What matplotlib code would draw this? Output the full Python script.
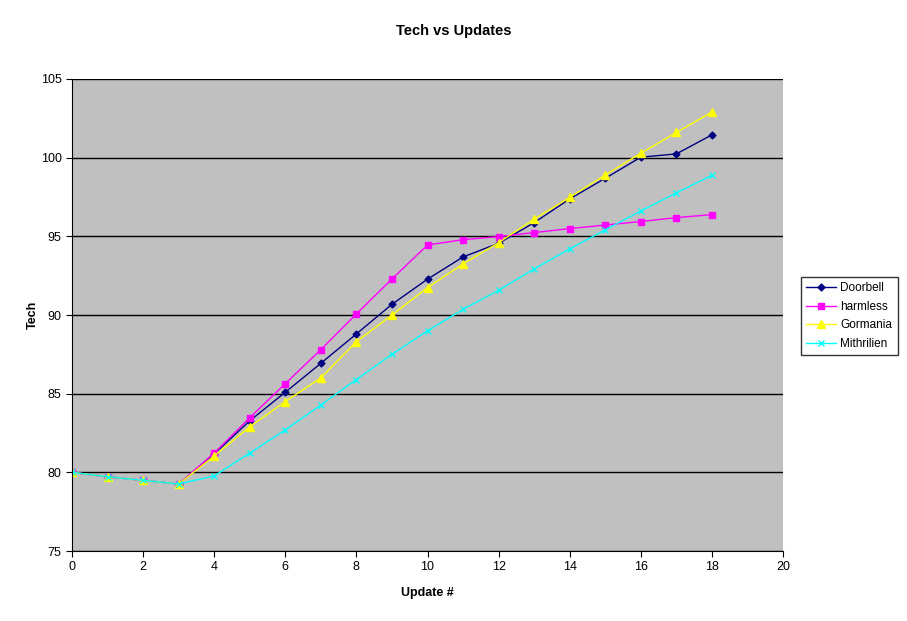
import matplotlib
matplotlib.use('Agg')
import matplotlib.pyplot as plt

plt.rcParams['font.family'] = ['Liberation Sans', 'DejaVu Sans']

updates = list(range(19))
doorbell = [80.0, 79.72, 79.49, 79.26, 81.17, 83.28, 85.09, 86.93, 88.8, 90.68, 92.28,
            93.69, 94.56, 95.87, 97.38, 98.69, 100.03, 100.24, 101.45]
harmless = [80.0, 79.72, 79.49, 79.26, 81.23, 83.47, 85.64, 87.8, 90.07, 92.29, 94.45,
            94.79, 94.98, 95.24, 95.49, 95.72, 95.94, 96.19, 96.38]
gormania = [80.0, 79.72, 79.49, 79.26, 81.04, 82.9, 84.5, 86.0, 88.3, 90.0, 91.74,
            93.25, 94.6, 96.09, 97.48, 98.9, 100.28, 101.6, 102.9]
mithrilien = [80.0, 79.72, 79.49, 79.26, 79.77, 81.23, 82.7, 84.28, 85.9, 87.5, 89.0,
              90.36, 91.57, 92.93, 94.2, 95.41, 96.61, 97.76, 98.88]

fig = plt.figure(figsize=(9.07, 6.21), dpi=100)
ax = fig.add_axes([0.0794, 0.1127, 0.7839, 0.7601])
ax.set_facecolor('#C0C0C0')

ax.plot(updates, doorbell, color='#000080', marker='D', markersize=3.5, lw=1, label='Doorbell')
ax.plot(updates, harmless, color='#FF00FF', marker='s', markersize=4.5, lw=1, label='harmless')
ax.plot(updates, gormania, color='#FFFF00', marker='^', markersize=5.5, lw=1, label='Gormania')
ax.plot(updates, mithrilien, color='#00FFFF', marker='x', markersize=4, lw=1, label='Mithrilien')

ax.set_xlim(0, 20)
ax.set_ylim(75, 105)
ax.set_xticks(range(0, 21, 2))
ax.set_yticks(range(75, 106, 5))
ax.yaxis.grid(True, color='black', lw=1)
ax.set_axisbelow(True)
ax.tick_params(labelsize=9, direction='out', length=4)
for s in ['top', 'right']:
    ax.spines[s].set_visible(False)

ax.set_xlabel('Update #', fontsize=9, fontweight='bold')
ax.set_ylabel('Tech', fontsize=9, fontweight='bold')
ax.xaxis.set_label_coords(0.5, -0.076)
ax.yaxis.set_label_coords(-0.047, 0.5)
fig.text(0.5, 0.95, 'Tech vs Updates', ha='center', va='center', fontsize=10.5, fontweight='bold')

leg = fig.legend(loc='center left', bbox_to_anchor=(0.883, 0.491), fontsize=8.5,
                 frameon=True, fancybox=False, edgecolor='black', handlelength=2.5,
                 handletextpad=0.4, borderpad=0.45, labelspacing=0.55, borderaxespad=0)
leg.get_frame().set_linewidth(1)

plt.savefig('out.png', dpi=100)
